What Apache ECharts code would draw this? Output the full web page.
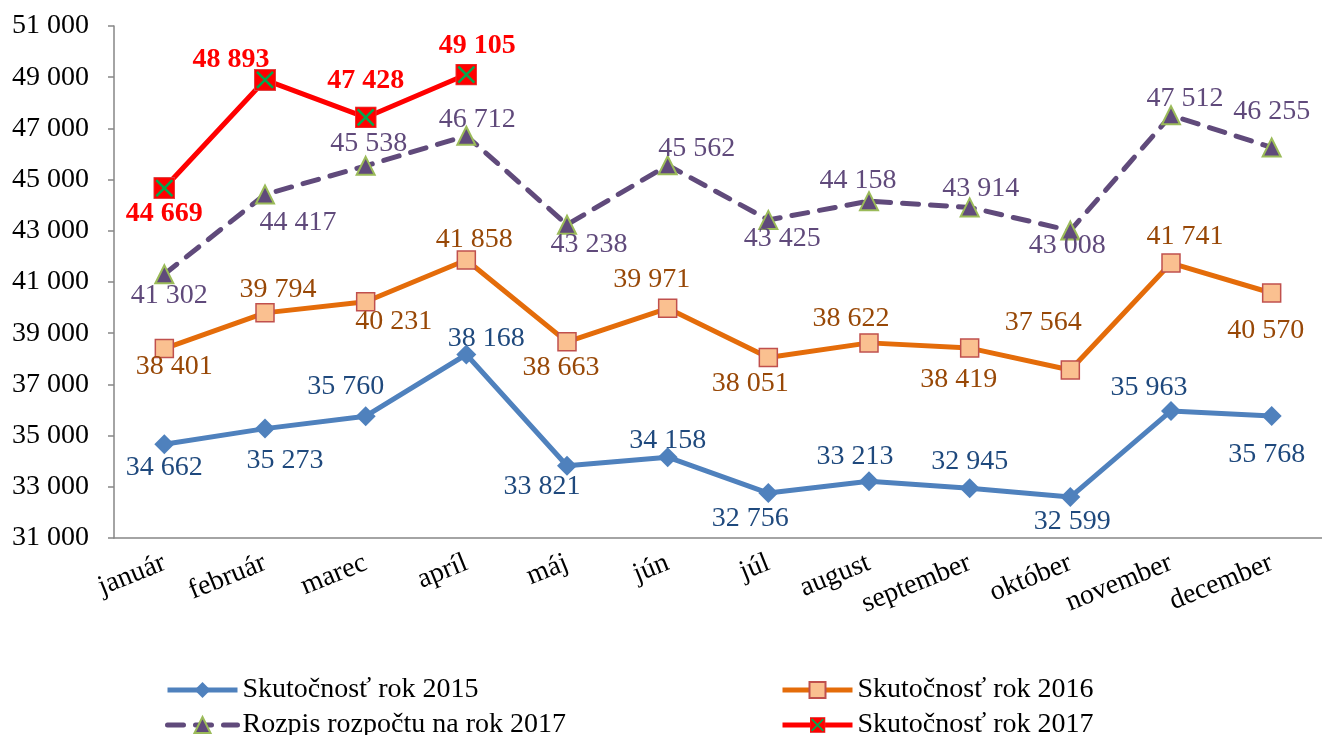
<!DOCTYPE html>
<html>
<head>
<meta charset="utf-8">
<script src="https://cdn.jsdelivr.net/npm/echarts@6/dist/echarts.min.js"></script>
<style>
  html, body { margin: 0; padding: 0; background: #fff; }
  #chart { width: 1322px; height: 735px; }
</style>
</head>
<body>
<div id="chart"></div>
<script>
var months = ['január', 'február', 'marec', 'apríl', 'máj', 'jún', 'júl', 'august', 'september', 'október', 'november', 'december'];

var fact2015 = [34662, 35273, 35760, 38168, 33821, 34158, 32756, 33213, 32945, 32599, 35963, 35768];
var fact2016 = [38401, 39794, 40231, 41858, 38663, 39971, 38051, 38622, 38419, 37564, 41741, 40570];
var budget2017 = [41302, 44417, 45538, 46712, 43238, 45562, 43425, 44158, 43914, 43008, 47512, 46255];
var fact2017 = [44669, 48893, 47428, 49105];

// label offsets from point centre (px)
var off2015 = [[0, 23], [20, 32], [-20, -30], [20, -16], [-25, 21], [0, -17], [-18, 26], [-14, -25], [0, -27], [2, 25], [-22, -23], [-5, 39]];
var off2016 = [[10, 18], [13, -23], [28, 20], [8, -20], [-6, 26], [-16, -29], [-18, 26], [-18, -24], [-11, 32], [-27, -47], [14, -26], [-6, 38]];
var offBudget = [[5, 21], [33, 28], [3, -22], [11, -16], [22, 20], [29, -17], [14, 19], [-11, -21], [11, -19], [-3, 15], [14, -17], [0, -36]];
var off2017 = [[0, 26], [-34, -20], [0, -37], [11, -29]];

var FONT = '"Liberation Serif", "Times New Roman", serif';

function fmt(v) {
  return String(v).replace(/\B(?=(\d{3})+(?!\d))/g, ' ');
}

function withLabels(values, offsets) {
  return values.map(function (v, i) {
    return { value: v, label: { offset: offsets[i] } };
  });
}

var xSymbol = 'image://data:image/svg+xml;utf8,' + encodeURIComponent(
  '<svg xmlns="http://www.w3.org/2000/svg" width="22" height="22" viewBox="0 0 22 22">' +
  '<rect x="0.5" y="0.5" width="21" height="21" fill="#FF0000" stroke="#E04040" stroke-width="1"/>' +
  '<path d="M3 3L19 19M19 3L3 19" stroke="#00A84F" stroke-width="2.5"/></svg>');

function lbl(color, bold) {
  return {
    show: true,
    position: 'inside',
    color: color,
    fontFamily: FONT,
    fontSize: 28,
    fontWeight: bold ? 'bold' : 'normal',
    formatter: function (p) { return fmt(p.value); }
  };
}

function legendAt(name, left, top) {
  return {
    left: left, top: top, itemWidth: 70, itemHeight: 20,
    lineStyle: { width: 5 },
    textStyle: { fontFamily: FONT, fontSize: 28, color: '#000' },
    data: [name]
  };
}

var chart = echarts.init(document.getElementById('chart'));

chart.setOption({
  animation: false,
  textStyle: { fontFamily: FONT },
  grid: { left: 114, right: -3, top: 26, bottom: 197 },
  legend: [
    legendAt('Skutočnosť rok 2015', 160, 671),
    legendAt('Rozpis rozpočtu na rok 2017', 160, 706),
    legendAt('Skutočnosť rok 2016', 775, 671),
    legendAt('Skutočnosť rok 2017', 775, 706)
  ],
  xAxis: {
    type: 'category',
    data: months,
    boundaryGap: true,
    axisLine: { lineStyle: { color: '#868686', width: 1.5 } },
    axisTick: { length: 6, lineStyle: { color: '#868686', width: 1.5 } },
    axisLabel: { rotate: 22, margin: 24, color: '#000', fontFamily: FONT, fontSize: 28, interval: 0 }
  },
  yAxis: {
    type: 'value',
    min: 31000,
    max: 51000,
    interval: 2000,
    axisLine: { show: true, lineStyle: { color: '#868686', width: 1.5 } },
    axisTick: { show: true, length: 6, lineStyle: { color: '#868686', width: 1.5 } },
    splitLine: { show: false },
    axisLabel: { color: '#000', fontFamily: FONT, fontSize: 28, margin: 25, formatter: fmt }
  },
  series: [
    {
      name: 'Skutočnosť rok 2015',
      type: 'line',
      data: withLabels(fact2015, off2015),
      symbol: 'diamond',
      symbolSize: 20,
      lineStyle: { color: '#4F81BD', width: 5 },
      itemStyle: { color: '#4F81BD' },
      label: lbl('#1F497D', false),
      z: 3
    },
    {
      name: 'Skutočnosť rok 2016',
      type: 'line',
      data: withLabels(fact2016, off2016),
      symbol: 'rect',
      symbolSize: 18,
      lineStyle: { color: '#E46C0A', width: 5 },
      itemStyle: { color: '#FAC090', borderColor: '#C0504D', borderWidth: 1.5 },
      label: lbl('#984807', false),
      z: 3
    },
    {
      name: 'Rozpis rozpočtu na rok 2017',
      type: 'line',
      data: withLabels(budget2017, offBudget),
      symbol: 'triangle',
      symbolSize: 18,
      lineStyle: { color: '#604A7B', width: 5, type: [16, 12], cap: 'round' },
      itemStyle: { color: '#604A7B', borderColor: '#9BBB59', borderWidth: 2 },
      label: lbl('#604A7B', false),
      z: 3
    },
    {
      name: 'Skutočnosť rok 2017',
      type: 'line',
      data: withLabels(fact2017, off2017),
      symbol: xSymbol,
      symbolSize: 22,
      lineStyle: { color: '#FF0000', width: 5 },
      itemStyle: { color: '#FF0000' },
      label: lbl('#FF0000', true),
      z: 4
    }
  ]
});
</script>
</body>
</html>
